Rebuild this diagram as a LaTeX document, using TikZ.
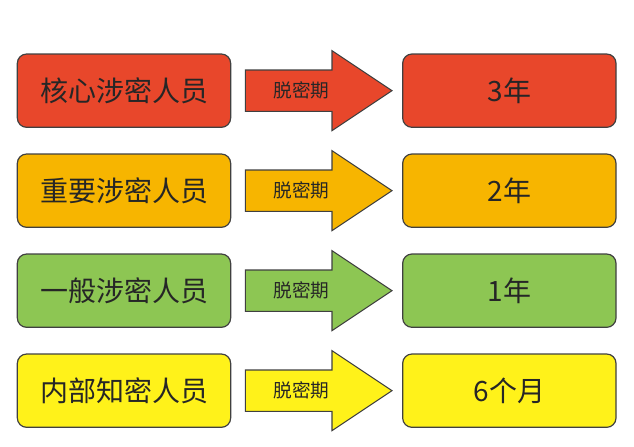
\documentclass[tikz,border=0pt]{standalone}
\usepackage{fontspec}
\newfontfamily\cjk{Noto Sans CJK SC}
\definecolor{cR}{HTML}{E8472B}
\definecolor{cO}{HTML}{F7B500}
\definecolor{cG}{HTML}{8DC653}
\definecolor{cY}{HTML}{FFF21A}
\begin{document}
\begin{tikzpicture}[x=1pt,y=-1pt,
 box/.style={draw=black!75,line width=0.9pt,rounded corners=7pt,minimum width=160pt,minimum height=55pt,font=\cjk\fontsize{21}{21}\selectfont,text=black!85},
 arr/.style={draw=black!75,line width=0.8pt},
 lab/.style={font=\cjk\fontsize{14}{14}\selectfont,text=black!85}]
\useasboundingbox (0,0) rectangle (475.5,334.5);
\foreach \i/\c/\l/\r in {0/cR/核心涉密人员/3年,1/cO/重要涉密人员/2年,2/cG/一般涉密人员/1年,3/cY/内部知密人员/6个月}{
 \pgfmathsetmacro\yy{68+75*\i}
 \node[box,fill=\c] (L\i) at (93,\yy) {\l};
 \node[box,fill=\c] (R\i) at (382,\yy) {\r};
 \draw[arr,fill=\c] (184,\yy-15.5) -- (249,\yy-15.5) -- (249,\yy-30) -- (294,\yy) -- (249,\yy+30) -- (249,\yy+15.5) -- (184,\yy+15.5) -- cycle;
 \node[lab] (A\i) at (226,\yy) {脱密期};
}
\end{tikzpicture}
\end{document}
